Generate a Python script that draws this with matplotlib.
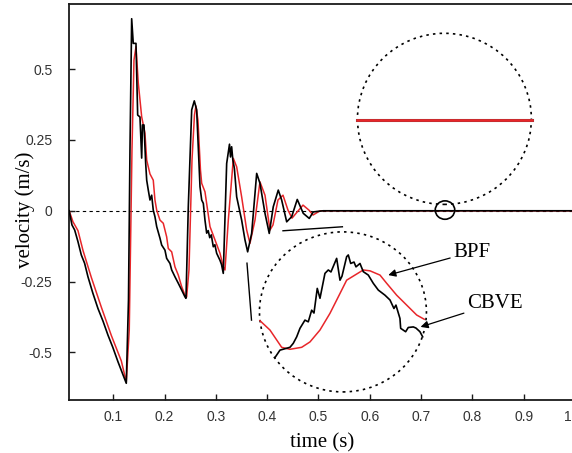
import matplotlib
matplotlib.use('Agg')
import matplotlib.pyplot as plt
import matplotlib.transforms as mtransforms
from matplotlib.patches import Ellipse

# main traces (time in s, velocity in m/s)
cbve_t = [0.014, 0.0194, 0.0247, 0.0311, 0.0376, 0.044, 0.0506, 0.060, 0.0701,
          0.080, 0.0896, 0.099, 0.1091, 0.1253,
          0.1296, 0.1325, 0.1358, 0.1389, 0.1442, 0.1475, 0.152, 0.1553, 0.1569,
          0.1598, 0.1631, 0.1651, 0.1682, 0.1715, 0.1748, 0.1779, 0.1812, 0.1846,
          0.191, 0.1943, 0.2007, 0.204, 0.2105, 0.2138, 0.2202, 0.2267, 0.2333,
          0.2397, 0.2417,
          0.2462, 0.2528, 0.2579, 0.2625, 0.269, 0.2723, 0.2755, 0.2787, 0.282,
          0.285, 0.288, 0.291, 0.2949, 0.298, 0.3015, 0.3046, 0.308, 0.311, 0.3144,
          0.321, 0.3265, 0.3285, 0.3307, 0.333, 0.336, 0.3405, 0.3502, 0.3567,
          0.3619, 0.3697, 0.3795, 0.3859, 0.3957, 0.404, 0.4118, 0.4216, 0.4282,
          0.438, 0.4477, 0.4586, 0.4703, 0.482, 0.4898, 0.5093, 0.75, 1.0]
cbve_v = [0.0, -0.05, -0.068, -0.109, -0.156, -0.185, -0.233, -0.29, -0.345,
          -0.39, -0.439, -0.482, -0.533, -0.609,
          -0.315, 0.214, 0.678, 0.591, 0.591, 0.338, 0.331, 0.186, 0.303,
          0.303, 0.168, 0.108, 0.073, 0.038, 0.055, 0.002, -0.021, -0.056,
          -0.097, -0.121, -0.139, -0.168, -0.186, -0.209, -0.233, -0.256, -0.28,
          -0.304, -0.309,
          0.014, 0.356, 0.388, 0.356, 0.085, 0.038, 0.026, -0.033, -0.079,
          -0.07, -0.095, -0.085, -0.127, -0.12, -0.15, -0.162, -0.175, -0.19, -0.221,
          0.167, 0.235, 0.19, 0.226, 0.18, 0.15, 0.049, -0.033, -0.103,
          -0.145, -0.08, 0.132, 0.097, -0.009, -0.08, 0.014, 0.073, 0.038,
          -0.039, -0.021, 0.04, -0.009, -0.027, -0.004, 0.0, 0.0, 0.0]

bpf_t = [0.014, 0.0214, 0.0311, 0.0409, 0.0571, 0.0766, 0.0961, 0.1156, 0.1253,
         0.1311, 0.1364, 0.1403, 0.1442, 0.1487, 0.1553, 0.1617, 0.1651, 0.1715,
         0.1779, 0.1812, 0.1846, 0.191, 0.1974, 0.204, 0.2072, 0.2138, 0.2202,
         0.2267, 0.2333, 0.2397, 0.243, 0.2475, 0.2534, 0.2582,
         0.2611, 0.265, 0.2699, 0.2723, 0.2787, 0.2885, 0.308, 0.3144, 0.3177,
         0.3242, 0.334, 0.3405, 0.3502, 0.36, 0.3664, 0.3762, 0.3859, 0.3957,
         0.4054, 0.4113, 0.421, 0.4308, 0.4406, 0.4484, 0.4581, 0.4698, 0.4816,
         0.4894, 0.503, 1.0]
bpf_v = [0.0, -0.039, -0.07, -0.14, -0.235, -0.34, -0.44, -0.53, -0.604,
         -0.421, 0.214, 0.532, 0.579, 0.451, 0.332, 0.274, 0.179, 0.13,
         0.108, 0.038, 0.002, -0.033, -0.044, -0.092, -0.133, -0.145, -0.198,
         -0.227, -0.268, -0.298, -0.304, -0.209, 0.179, 0.338,
         0.37, 0.32, 0.144, 0.097, 0.067, -0.056, -0.15, -0.198, -0.209,
         -0.033, 0.185, 0.155, 0.049, -0.068, -0.115, -0.033, 0.102, 0.055,
         -0.068, -0.05, 0.038, 0.055, 0.002, -0.026, -0.005, 0.02, 0.002,
         -0.015, 0.0, 0.0]

# magnified detail drawn inside the lower circle
zoom_bpf_t = [0.3859, 0.4054, 0.4282, 0.4444, 0.4672, 0.4834, 0.5029, 0.5224,
              0.5419, 0.5549, 0.5711, 0.5873, 0.6004, 0.6199, 0.6329, 0.6524,
              0.6719, 0.6914, 0.7062]
zoom_bpf_v = [-0.388, -0.421, -0.482, -0.489, -0.482, -0.463, -0.421, -0.362,
              -0.292, -0.245, -0.227, -0.209, -0.212, -0.227, -0.256, -0.298,
              -0.333, -0.368, -0.383]
zoom_cbve_t = [0.4152, 0.4249, 0.4444, 0.4508, 0.4575, 0.4639, 0.4736, 0.4801,
               0.4867, 0.4912, 0.4976, 0.5029, 0.5126, 0.5191, 0.5243, 0.5354,
               0.5419, 0.5458, 0.5549, 0.5581, 0.5628, 0.5692, 0.5731, 0.5809,
               0.5873, 0.5971, 0.6068, 0.6166, 0.6296, 0.6394, 0.6471, 0.651,
               0.6588, 0.6602, 0.6699, 0.675, 0.6848, 0.69, 0.6978, 0.7031]
zoom_cbve_v = [-0.518, -0.492, -0.482, -0.468, -0.445, -0.415, -0.386, -0.392,
               -0.351, -0.361, -0.274, -0.309, -0.221, -0.209, -0.216, -0.168,
               -0.245, -0.231, -0.162, -0.156, -0.186, -0.181, -0.198, -0.186,
               -0.215, -0.227, -0.256, -0.28, -0.298, -0.315, -0.345, -0.333,
               -0.38, -0.415, -0.427, -0.412, -0.41, -0.414, -0.427, -0.445]

xticks = [0.1, 0.2, 0.3, 0.4, 0.5, 0.6, 0.7, 0.8, 0.9, 1.0]
xticklabels = ['0.1', '0.2', '0.3', '0.4', '0.5', '0.6', '0.7', '0.8', '0.9', '1']
yticks = [-0.5, -0.25, 0, 0.25, 0.5]
yticklabels = ['-0.5', '-0.25', '0', '0.25', '0.5']

SERIF = 'Liberation Serif'
SANS = 'Liberation Sans'
INK = '#1a1a1a'

fig = plt.figure(figsize=(5.72, 4.53), dpi=100)
ax = fig.add_axes([0.1206, 0.117, 0.8846, 0.8742])

ax.axhline(0, color='black', lw=0.8, ls=(0, (3, 3)), zorder=1)

ax.plot(bpf_t, bpf_v, color='#e8262a', lw=1.1, zorder=2)
ax.plot(cbve_t, cbve_v, color='black', lw=1.2, zorder=3)

# upper magnifier: flat tail seen through a lens
ax.add_patch(Ellipse((0.7455, 0.3245), 0.339, 0.604, fill=False, ls=(0, (1.5, 2.5)),
                     lw=1.2, color='black', zorder=4))
ax.plot([0.5756, 0.9156], [0.321, 0.321], color='#444444', lw=2.2, zorder=4)
ax.plot([0.5756, 0.9156], [0.319, 0.319], color='#e8262a', lw=1.9, zorder=5)
ax.add_patch(Ellipse((0.7466, 0.0025), 0.038, 0.065, fill=False, lw=1.2,
                     color='black', zorder=5))

# lower magnifier
ax.add_patch(Ellipse((0.5477, -0.357), 0.3255, 0.565, fill=False, ls=(0, (1.5, 2.5)),
                     lw=1.2, color='black', zorder=4))
ax.plot(zoom_bpf_t, zoom_bpf_v, color='#e8262a', lw=1.1, zorder=5)
ax.plot(zoom_cbve_t, zoom_cbve_v, color='black', lw=1.2, zorder=6)
ax.plot([0.4308, 0.5466], [-0.0706, -0.0565], color='black', lw=1.0, zorder=4)
ax.plot([0.3606, 0.3694], [-0.185, -0.386], color='black', lw=1.0, zorder=4)

arrow = dict(arrowstyle='-|>', color='black', lw=0.9, mutation_scale=11,
             shrinkA=0, shrinkB=0)
ax.annotate('BPF', xy=(0.636, -0.227), xytext=(0.7621, -0.146), fontsize=15,
            family=SERIF, va='center', ha='left', arrowprops=arrow, zorder=7)
ax.annotate('CBVE', xy=(0.699, -0.41), xytext=(0.7889, -0.327), fontsize=15,
            family=SERIF, va='center', ha='left', arrowprops=arrow, zorder=7)

ax.set_xlim(0.0136, 1.0)
ax.set_ylim(-0.668, 0.730)
ax.set_xticks(xticks)
ax.set_xticklabels(xticklabels, family=SANS, fontsize=10, color='#333333')
ax.set_yticks(yticks)
ax.set_yticklabels(yticklabels, family=SANS, fontsize=10, color='#333333')
ax.tick_params(axis='x', direction='in', length=4, width=1, color=INK, pad=7)
ax.tick_params(axis='y', direction='in', length=4, width=1, color=INK, pad=12)

# the last x label sits just inside the canvas edge
last = ax.get_xticklabels()[-1]
last.set_transform(last.get_transform() +
                   mtransforms.ScaledTranslation(-7 / 100, 0, fig.dpi_scale_trans))

for side in ['left', 'bottom', 'top', 'right']:
    ax.spines[side].set_color(INK)
    ax.spines[side].set_linewidth(1.3)

ax.set_xlabel('time (s)', family=SERIF, fontsize=15, labelpad=7)
ax.set_ylabel('velocity (m/s)', family=SERIF, fontsize=15)
ax.yaxis.set_label_coords(-0.067, 0.48)

fig.savefig('out.png', dpi=100)
